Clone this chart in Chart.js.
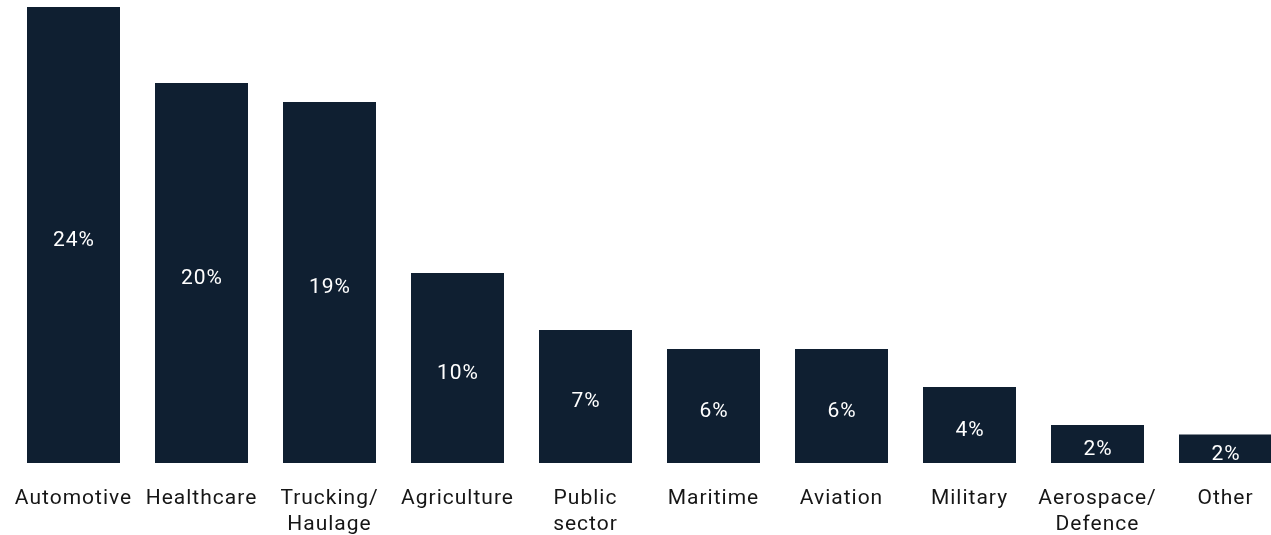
<!DOCTYPE html>
<html><head><meta charset="utf-8">
<script src="https://cdn.jsdelivr.net/npm/chart.js@4/dist/chart.umd.min.js"></script>
<style>html,body{margin:0;padding:0;background:#fff;overflow:hidden;width:1271px;height:535px}#wrap{width:1290px;height:535px}</style>
</head><body><div id="wrap"><canvas id="c" width="1290" height="535"></canvas></div>
<script>
const categories = [["Automotive"],["Healthcare"],["Trucking/","Haulage"],["Agriculture"],["Public","sector"],["Maritime"],["Aviation"],["Military"],["Aerospace/","Defence"],["Other"]];
const shareValues = [24, 20, 19, 10, 7, 6, 6, 4, 2, 1.5];
const shareLabels = ["24%","20%","19%","10%","7%","6%","6%","4%","2%","2%"];

const spacingPlugin = {
  id: 'spacing',
  beforeDraw(chart) { chart.ctx.letterSpacing = '1px'; }
};

const barLabelPlugin = {
  id: 'barLabels',
  afterDatasetsDraw(chart) {
    const ctx = chart.ctx;
    const meta = chart.getDatasetMeta(0);
    ctx.save();
    ctx.letterSpacing = '1px';
    ctx.fillStyle = '#ffffff';
    ctx.font = '21px Roboto';
    ctx.textAlign = 'center';
    ctx.textBaseline = 'middle';
    meta.data.forEach((bar, i) => {
      const mid = (bar.y + bar.base) / 2 + 5.5;
      ctx.fillText(shareLabels[i], bar.x + 0.5, mid);
    });
    ctx.restore();
  }
};

new Chart(document.getElementById('c'), {
  type: 'bar',
  data: {
    labels: categories,
    datasets: [{ data: shareValues, backgroundColor: '#0f1f31', borderWidth: 0,
      barPercentage: 1, categoryPercentage: 93/128 }]
  },
  options: {
    responsive: false,
    animation: false,
    layout: { padding: { left: 9.5, right: 0.5, top: 7, bottom: 0 } },
    plugins: { legend: { display: false }, tooltip: { enabled: false } },
    scales: {
      y: { display: false, min: 0, max: 24 },
      x: {
        grid: { display: false, drawTicks: false },
        border: { display: false },
        ticks: { color: '#161616', font: { family: 'Roboto', size: 21, lineHeight: 1.24 }, padding: 23, maxRotation: 0, autoSkip: false },
        afterFit: s => { s.height = 72; s.paddingLeft = 0; s.paddingRight = 0; }
      }
    }
  },
  plugins: [spacingPlugin, barLabelPlugin]
});
</script></body></html>
